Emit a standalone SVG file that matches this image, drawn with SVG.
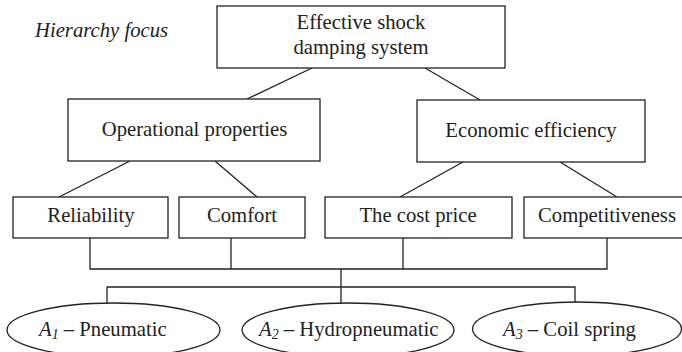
<svg xmlns="http://www.w3.org/2000/svg" width="682" height="352" viewBox="0 0 682 352">
<style>
.box{fill:#fff;stroke:#222;stroke-width:1.3}
.t{font-family:"Liberation Serif","Times New Roman",serif;font-size:20.7px;fill:#222}
.m{text-anchor:middle}
.i{font-style:italic}
.sub{font-size:14px;font-style:italic}
.ln{fill:none;stroke:#222;stroke-width:1.3}
</style>
<rect width="682" height="352" fill="#fff"/>
<text class="t i" x="35" y="37">Hierarchy focus</text>
<g id="connectors">
<line class="ln" x1="312" y1="68" x2="247" y2="99"/>
<line class="ln" x1="425" y1="68" x2="480" y2="100"/>
<line class="ln" x1="130" y1="161" x2="59" y2="197"/>
<line class="ln" x1="215" y1="161" x2="257" y2="197"/>
<line class="ln" x1="463" y1="162" x2="400" y2="197"/>
<line class="ln" x1="560" y1="162" x2="617" y2="197"/>
<polyline class="ln" points="90,238 90,269 607,269 607,238"/>
<line class="ln" x1="231" y1="238" x2="231" y2="269"/>
<line class="ln" x1="403" y1="238" x2="403" y2="269"/>
<line class="ln" x1="341" y1="269" x2="341" y2="303"/>
<polyline class="ln" points="107,304 107,287 575,287 575,303"/>
</g>
<g id="goal">
<rect class="box" x="217" y="6" width="288" height="62"/>
<text class="t m" x="361" y="29">Effective shock</text>
<text class="t m" x="361" y="54">damping system</text>
</g>
<g id="operational">
<rect class="box" x="68" y="99" width="252" height="62"/>
<text class="t m" x="194.5" y="136">Operational properties</text>
</g>
<g id="economic">
<rect class="box" x="417" y="100" width="228" height="62"/>
<text class="t m" x="531" y="137">Economic efficiency</text>
</g>
<g id="reliability">
<rect class="box" x="13" y="197" width="155" height="41"/>
<text class="t m" x="91" y="222">Reliability</text>
</g>
<g id="comfort">
<rect class="box" x="179" y="197" width="126" height="41"/>
<text class="t m" x="242" y="222">Comfort</text>
</g>
<g id="costprice">
<rect class="box" x="325" y="197" width="187" height="41"/>
<text class="t m" x="418" y="222">The cost price</text>
</g>
<g id="competitiveness">
<rect class="box" x="524" y="197" width="170" height="41"/>
<text class="t m" x="607" y="222">Competitiveness</text>
</g>
<g id="a1">
<ellipse class="box" cx="113.5" cy="330" rx="106.5" ry="27"/>
<text class="t" x="39" y="336"><tspan class="i">A</tspan><tspan class="sub" dy="3">1</tspan><tspan dy="-3"> – Pneumatic</tspan></text>
</g>
<g id="a2">
<ellipse class="box" cx="348" cy="330" rx="106" ry="27"/>
<text class="t" x="259" y="336"><tspan class="i">A</tspan><tspan class="sub" dy="3">2</tspan><tspan dy="-3"> – Hydropneumatic</tspan></text>
</g>
<g id="a3">
<ellipse class="box" cx="577" cy="329" rx="104.5" ry="27"/>
<text class="t" x="503" y="336"><tspan class="i">A</tspan><tspan class="sub" dy="3">3</tspan><tspan dy="-3"> – Coil spring</tspan></text>
</g>
</svg>
